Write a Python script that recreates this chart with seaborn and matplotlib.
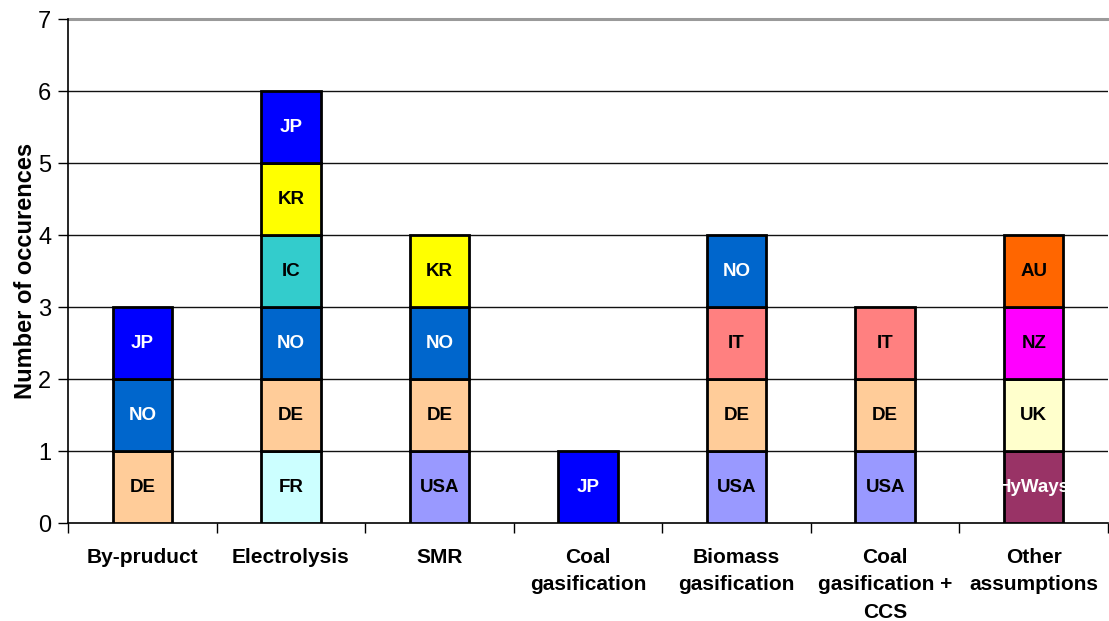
import numpy as np
import pandas as pd
import matplotlib
matplotlib.use("Agg")
import matplotlib.pyplot as plt
import seaborn as sns

# Production routes on the x axis (labels as printed, with line breaks)
categories = ["By-pruduct", "Electrolysis", "SMR", "Coal\ngasification",
              "Biomass\ngasification", "Coal\ngasification +\nCCS", "Other\nassumptions"]

# Studies per route, listed from the bottom of each stack upwards
by_product = ["DE", "NO", "JP"]
electrolysis = ["FR", "DE", "NO", "IC", "KR", "JP"]
smr = ["USA", "DE", "NO", "KR"]
coal_gasification = ["JP"]
biomass_gasification = ["USA", "DE", "IT", "NO"]
coal_gasification_ccs = ["USA", "DE", "IT"]
other_assumptions = ["HyWays", "UK", "NZ", "AU"]

# Each study counts as one occurrence
occurrence = 1

country_colors = {
    "DE": "#FFCC99", "NO": "#0066CC", "JP": "#0000FF", "FR": "#CCFFFF",
    "IC": "#33CCCC", "KR": "#FFFF00", "USA": "#9999FF", "IT": "#FF8080",
    "HyWays": "#993366", "UK": "#FFFFCC", "NZ": "#FF00FF", "AU": "#FF6600",
}
white_text = {"JP", "NO", "HyWays"}

stacks = [by_product, electrolysis, smr, coal_gasification,
          biomass_gasification, coal_gasification_ccs, other_assumptions]

rows = []
for cat, stack in zip(categories, stacks):
    base = 0
    for level, country in enumerate(stack):
        rows.append(dict(route=cat, country=country, count=occurrence,
                         base=base, level=level))
        base += occurrence
df = pd.DataFrame(rows)

sns.set_theme(style="white")
plt.rcParams["font.family"] = ["Liberation Sans", "DejaVu Sans"]
plt.rcParams["text.color"] = "black"
plt.rcParams["axes.labelcolor"] = "black"
plt.rcParams["xtick.color"] = "black"
plt.rcParams["ytick.color"] = "black"

fig = plt.figure(figsize=(11.09, 6.21), dpi=100)
ax = fig.add_axes([0.0613, 0.1578, 0.9378, 0.8116])

# horizontal grid
for yv in range(1, 7):
    ax.axhline(yv, color="#111111", lw=1.0, zorder=0)
ax.axhline(7, color="#9a9a9a", lw=2.2, zorder=0, clip_on=False)

# one seaborn call per stack layer; every segment in a layer shares its base
for level, sub in df.groupby("level"):
    sns.barplot(data=sub, x="route", y="count", hue="country", order=categories,
                palette=country_colors, saturation=1, dodge=False, width=0.4,
                legend=False, bottom=float(sub["base"].iloc[0]),
                edgecolor="black", linewidth=2.0, ax=ax, zorder=3)

for _, r in df.iterrows():
    xi = categories.index(r["route"])
    ax.text(xi, r["base"] + r["count"] / 2, r["country"], ha="center", va="center",
            fontsize=13.5, fontweight="bold",
            color="white" if r["country"] in white_text else "black", zorder=4)

ax.set_xlim(-0.5, len(categories) - 0.5)
ax.set_ylim(0, 7)
ax.set_yticks(range(0, 8))
ax.tick_params(axis="y", which="major", direction="out", length=7, width=1,
               color="black", labelcolor="black", labelsize=17, pad=5, left=True)

# tick marks between routes, labels centred under each bar
ax.set_xticks(np.arange(-0.5, len(categories), 1.0))
ax.set_xticklabels([""] * (len(categories) + 1))
ax.set_xticks(np.arange(len(categories)), minor=True)
ax.set_xticklabels(categories, minor=True, fontsize=15, fontweight="bold",
                   linespacing=1.55, va="top", color="black")
ax.tick_params(axis="x", which="major", direction="out", length=7, width=1,
               color="black", bottom=True)
ax.tick_params(axis="x", which="minor", length=0, pad=18)

ax.set_xlabel("")
ax.set_ylabel("Number of occurences", fontsize=17, fontweight="bold",
              labelpad=1, color="black")

for side in ["top", "right"]:
    ax.spines[side].set_visible(False)
ax.spines["left"].set_color("black")
ax.spines["left"].set_linewidth(1.2)
ax.spines["bottom"].set_color("black")
ax.spines["bottom"].set_linewidth(1.2)

fig.savefig("out.png", dpi=100)
